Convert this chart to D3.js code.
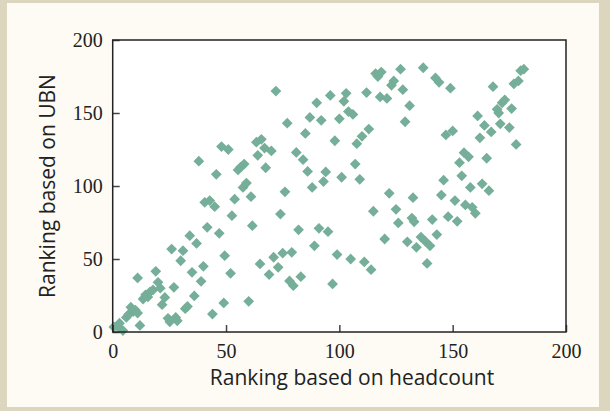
<!DOCTYPE html>
<html>
<head>
<meta charset="utf-8">
<script src="https://cdn.jsdelivr.net/npm/d3@7"></script>
<style>
	body { margin: 0; background: #ddd6bf; }
	svg { display: block; }
</style>
</head>
<body>
<script>
// ranking of each region by headcount (x) and by UBN (y)
var headcountRank = [0.5, 2, 3, 4.5, 6, 7, 8, 9, 10, 11, 11, 12, 13.4, 14.5, 15.5, 16.5, 17.8, 19, 20, 21,
	21.8, 23, 24.4, 25.2, 26, 27, 27.8, 28.5, 30, 31, 32, 33, 34, 35, 36, 37, 38, 39, 40, 40.6,
	41.7, 42.8, 44, 45, 45.7, 47, 48, 49, 49.4, 51, 52, 52.6, 53.8, 55.3, 56.5, 57.5, 58, 59, 60, 61,
	61.6, 63.4, 64, 65, 65.6, 67, 67.5, 69, 70, 71, 72, 73, 74, 75, 76, 77, 78, 79, 79.7, 81,
	82, 83, 84, 85, 86, 87, 88, 89, 90, 91, 92, 93, 94, 95, 96, 97, 98, 99, 100, 101,
	102, 103, 104, 105, 106, 107, 107.7, 109, 110, 111, 112, 113, 114, 115, 116, 117, 118, 118.5, 120, 121,
	122, 123, 124, 125, 126, 127, 128, 129, 130, 131, 132, 132.5, 133, 134, 136, 137, 138, 138.7, 140, 141,
	142.4, 143, 144, 145, 146, 147, 148, 149, 150, 151, 152, 153, 154, 155, 155.6, 157, 157.8, 158.6, 160, 161,
	162, 163, 164, 165, 166, 167, 167.8, 169.6, 170.3, 171, 171.8, 173, 175, 176, 177, 178, 179, 180, 181.4];

var ubnRank = [3.5, 4, 6, 1, 10, 12, 17, 14, 15, 13, 37, 4.5, 22.6, 25.5, 24, 27.5, 28.8, 41.6, 34, 30,
	18.7, 23.7, 9.4, 7, 56.8, 30.6, 10, 7.7, 48.8, 55.7, 16, 17.5, 66, 40.9, 24.7, 60.7, 117, 34.7, 45, 88.8,
	71.7, 90, 12.3, 85.8, 108, 67.6, 127, 19.9, 52.3, 125, 40.2, 79.7, 91, 111, 113, 99, 115, 102, 21, 92.7,
	72.8, 130, 121, 46.6, 132, 126, 112.5, 39.3, 124, 51.2, 165, 44.3, 80.8, 54, 96, 143, 35, 54.6, 31.7, 123,
	70, 37.9, 118, 136, 110, 147, 99, 59, 157, 71, 145, 103, 109.6, 68.7, 162, 32.9, 131, 53, 146, 106,
	158, 163.5, 151, 50, 149, 115, 129, 104.6, 134, 48, 164, 139, 42.7, 82.7, 177, 175, 161, 178, 63.7, 160,
	95, 169, 172, 84, 74.7, 180, 166, 144, 61.8, 155, 78, 92, 75.5, 58, 65, 181, 62, 47, 59, 77,
	174, 66.7, 171, 93.8, 104, 135, 79, 167, 137.7, 90, 75.8, 116, 107, 122.8, 87, 120, 99, 85.4, 81.3, 148,
	133, 101.5, 141.5, 119, 96.8, 137, 168, 152.5, 150, 142.6, 157, 159, 140, 153, 170, 128.5, 172, 179, 180];

var tickValues = [0, 50, 100, 150, 200];
var xTitle = "Ranking based on headcount";
var yTitle = "Ranking based on UBN";

var width = 610,
	height = 411;

var svg = d3.select("body").append("svg")
	.attr("width", width)
	.attr("height", height);

// cream panel inside the beige border
svg.append("rect")
	.attr("x", 7).attr("y", 3)
	.attr("width", 592).attr("height", 404)
	.attr("fill", "#fdfbf4");

var plotLeft = 112.7, plotRight = 566, plotTop = 40, plotBottom = 332;

var x = d3.scaleLinear().domain([0, 200]).range([plotLeft, plotRight]);
var y = d3.scaleLinear().domain([0, 200]).range([plotBottom, plotTop]);

svg.append("rect")
	.attr("x", plotLeft).attr("y", plotTop)
	.attr("width", plotRight - plotLeft).attr("height", plotBottom - plotTop)
	.attr("fill", "#ffffff");

var points = headcountRank.map(function(d, i) {
	return { x: d, y: ubnRank[i] };
});

var diamond = d3.symbol().type(d3.symbolSquare).size(58);

svg.append("g")
	.selectAll("path")
	.data(points)
	.enter().append("path")
	.attr("d", diamond)
	.attr("fill", "#75ae99")
	.attr("transform", function(d) {
		return "translate(" + x(d.x) + "," + y(d.y) + ") rotate(45)";
	});

var xAxis = svg.append("g")
	.attr("transform", "translate(0," + plotBottom + ")")
	.call(d3.axisBottom(x).tickValues(tickValues).tickSize(-7).tickPadding(12));

var yAxis = svg.append("g")
	.attr("transform", "translate(" + plotLeft + ",0)")
	.call(d3.axisLeft(y).tickValues(tickValues).tickSize(-7).tickPadding(10));

[xAxis, yAxis].forEach(function(ax) {
	ax.select(".domain").remove();
	ax.selectAll(".tick line").attr("stroke", "#444").attr("stroke-width", 1.5);
	ax.selectAll(".tick text")
		.attr("fill", "#222")
		.style("font-family", "'Liberation Serif', serif")
		.style("font-size", "20px");
});

// frame round the plot
svg.append("rect")
	.attr("x", plotLeft).attr("y", plotTop)
	.attr("width", plotRight - plotLeft).attr("height", plotBottom - plotTop)
	.attr("fill", "none")
	.attr("stroke", "#222")
	.attr("stroke-width", 1.5);

svg.append("text")
	.attr("x", 352)
	.attr("y", 385)
	.attr("text-anchor", "middle")
	.attr("fill", "#222")
	.style("font-family", "'Open Sans', sans-serif")
	.style("font-size", "21px")
	.text(xTitle);

svg.append("text")
	.attr("transform", "translate(55," + ((plotTop + plotBottom) / 2) + ") rotate(-90)")
	.attr("text-anchor", "middle")
	.attr("fill", "#222")
	.style("font-family", "'Open Sans', sans-serif")
	.style("font-size", "21px")
	.text(yTitle);
</script>
</body>
</html>
